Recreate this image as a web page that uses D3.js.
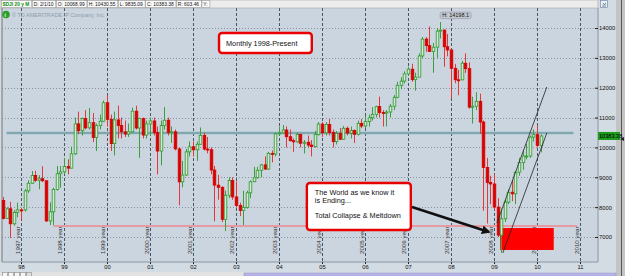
<!DOCTYPE html>
<html><head><meta charset="utf-8">
<script src="https://cdn.jsdelivr.net/npm/d3@7"></script>
<style>
body{margin:0;background:#d4d0c8;overflow:hidden;}
svg{display:block;font-family:"Liberation Sans",Arial,sans-serif;}
</style>
</head><body><svg id="c" width="625" height="276"></svg>
<script>
// ---- DATA (DJIA monthly, Aug 1997 - Feb 2010) ----
const firstMonth = "1997-08";
const opens = [8222,7622,7945,7442,7823,
7908,7907,8546,8800,9063,8900,8952,8883,7539,7843,8592,9117,
9181,9359,9307,9786,10789,10560,10971,10655,10829,10337,10730,10878,
11497,10941,10128,10922,10734,10522,10448,10522,11215,10651,10971,10414,
10787,10887,10495,9879,10735,10912,10502,10523,9950,8848,9075,9852,
10022,9920,10106,10404,9946,9925,9243,8737,8664,7592,8397,8896,
8342,8054,7891,7992,8480,8850,8985,9234,9416,9275,9801,9782,
10454,10488,10584,10358,10226,10188,10435,10140,10174,10080,10027,10428,
10783,10490,10766,10504,10193,10467,10275,10641,10482,10569,10440,10806,
10718,10865,10993,11109,11367,11168,11150,11186,11381,11679,12081,12222,
12463,12622,12269,12354,13063,13628,13409,13212,13358,13896,13930,13372,
13265,12650,12266,12263,12820,12638,11350,11378,11544,10851,9325,8829,
8776,8001,7063,7609,8168,8500,8447,9172,9496,9712,9713,10345,
10428,10068.99];
const highs = [8340,8000,8180,7900,8150,
7980,8600,8900,9210,9220,9070,9370,8900,8160,8650,9380,9380,
9650,9600,10030,11000,11200,11000,11250,11320,11150,10800,11100,11570,
11750,11100,11200,11400,11000,10900,10800,11330,11400,10990,11000,10900,
11000,11000,10700,10900,11350,11000,10700,10600,10000,9550,9950,10200,
10200,10200,10670,10500,10350,10000,9380,9080,8700,8550,9000,9000,
8860,8150,8550,8550,8900,9350,9350,9450,9700,9850,9900,10500,
10700,10750,10700,10600,10300,10500,10450,10250,10400,10250,10550,10850,
10850,10850,10950,10600,10550,10650,10720,10700,10700,10600,10900,10950,
11050,11100,11350,11400,11700,11250,11250,11450,11750,12200,12350,12550,
12700,12800,12500,13150,13700,13700,14050,13500,14000,14198.1,13950,13800,
13300,12800,12600,12900,13150,12850,11700,11850,11800,10900,9650,9050,
9100,8300,7950,8250,8600,8900,9200,9650,9900,10120,10400,10600,
10730,10430.55];
const lows = [7590,7620,6970,7380,7660,
7580,7850,8480,8780,8850,8600,8840,7500,7400,7400,8550,8650,
9100,9100,9300,9750,10450,10400,10600,10600,10180,9880,10600,10850,
10700,9880,9730,10300,10300,10350,10350,10500,10600,9650,10300,10300,
10400,10400,9100,9400,10600,10400,10150,9900,8060,8660,9050,9700,
9700,9550,10100,9900,9800,9100,7530,8250,7500,7200,8300,8250,
8000,7700,7400,7950,8300,8850,8950,9000,9250,9250,9500,9700,
10400,10450,10000,10200,9850,10150,10000,9800,10000,9700,10000,10400,
10350,10400,10400,10000,10100,10250,10250,10400,10300,10150,10400,10650,
10650,10700,10900,11000,11000,10700,10700,11000,11250,11650,11950,12150,
12400,12200,11900,12350,13000,13200,13200,12500,13000,13650,12700,13050,
11650,12150,11750,12250,12500,11300,10800,11250,10450,7880,7450,8100,
7900,7000,6470,7500,8100,8200,8100,9050,9250,9600,9650,10200,
10000,9835.09];
const closes = [7622,7945,7442,7823,7908,
7907,8546,8800,9063,8900,8952,8883,7539,7843,8592,9117,9181,
9359,9307,9786,10789,10560,10971,10655,10829,10337,10730,10878,11497,
10941,10128,10922,10734,10522,10448,10522,11215,10651,10971,10414,10787,
10887,10495,9879,10735,10912,10502,10523,9950,8848,9075,9852,10022,
9920,10106,10404,9946,9925,9243,8737,8664,7592,8397,8896,8342,
8054,7891,7992,8480,8850,8985,9234,9416,9275,9801,9782,10454,
10488,10584,10358,10226,10188,10435,10140,10174,10080,10027,10428,10783,
10490,10766,10504,10193,10467,10275,10641,10482,10569,10440,10806,10718,
10865,10993,11109,11367,11168,11150,11186,11381,11679,12081,12222,12463,
12622,12269,12354,13063,13628,13409,13212,13358,13896,13930,13372,13265,
12650,12266,12263,12820,12638,11350,11378,11544,10851,9325,8829,8776,
8001,7063,7609,8168,8500,8447,9172,9496,9712,9713,10345,10428,
10067,10383.38];
const yTicks = [7000,8000,9000,10000,11000,12000,13000,14000];
const yearTicks = [1998,1999,2000,2001,2002,2003,2004,2005,2006,2007,2008,2009,2010,2011];
const headerItems = ["$DJI 20 y M","D: 2/1/10","O: 10068.99","H: 10430.55","L: 9835.09","C: 10383.38","R: 603.46","Y:"];
const lastPrice = 10383.38;
const highLabel = "H: 14198.1";
const resistanceLevel = 10483;
const supportLevel = 7368;
const boxTitle = {text:["Monthly 1998-Present"], from:["2002-08-10",13832], to:["2004-10-06",13162]};
const boxNote = {text:["The World as we know it","is Ending...","","Total Collapse & Meltdown"], from:["2004-08-25",8808], to:["2007-01-25",7234]};
const arrowPts = [["2007-02-04",8005],["2008-11-19",7167]];
const redZone = [["2009-02-22",7300],["2010-05-23",6565]];
const channelUpper = [["2009-01-25",7469],["2010-03-25",12023]];
const channelLower = [["2009-03-16",6464],["2010-03-25",10483]];

// ---- LAYOUT ----
const W=625,H=276;
const plot={l:2,r:598,t:8,b:262};
const parse=d3.timeParse("%Y-%m-%d");
const m0=d3.timeParse("%Y-%m")(firstMonth);
const months=d3.timeMonth.range(m0, d3.timeMonth.offset(m0, closes.length));
const data=months.map((d,i)=>({d,o:opens[i],h:highs[i],l:lows[i],c:closes[i]}));
const x=d3.scaleTime().domain([new Date(1998,0,1),new Date(2011,0,1)]).range([21,580]);
const y=d3.scaleLinear().domain([7000,14000]).range([237,28]);
const P=p=>[x(parse(p[0])),y(p[1])];

const svg=d3.select("#c");
// frame backgrounds
svg.append("rect").attr("width",W).attr("height",H).attr("fill","#d4d0c8");
svg.append("rect").attr("x",0).attr("y",0).attr("width",616).attr("height",272).attr("fill","#d3dbe3");
svg.append("rect").attr("x",plot.l).attr("y",plot.t).attr("width",plot.r-plot.l).attr("height",plot.b-plot.t).attr("fill","#cbd5df");
svg.append("line").attr("x1",plot.l).attr("x2",plot.l).attr("y1",plot.t).attr("y2",plot.b).attr("stroke","#777");
svg.append("line").attr("x1",plot.r).attr("x2",plot.r).attr("y1",plot.t).attr("y2",plot.b).attr("stroke","#8a96a2");
svg.append("line").attr("x1",plot.l).attr("x2",plot.r).attr("y1",plot.b).attr("y2",plot.b).attr("stroke","#8a96a2");
// right strip
svg.append("rect").attr("x",616).attr("y",0).attr("width",9).attr("height",H).attr("fill","#c4c4c4");
svg.append("line").attr("x1",621.5).attr("x2",621.5).attr("y1",0).attr("y2",H).attr("stroke","#555");
svg.append("path").attr("d",`M620,${y(lastPrice)+3} l4,-2 l0,4 z`).attr("fill","#222");
// bottom toolbar
svg.append("rect").attr("x",0).attr("y",272).attr("width",616).attr("height",4).attr("fill","#e2e2e2");
svg.append("rect").attr("x",244).attr("y",273).attr("width",372).attr("height",3).attr("fill","#b8b8ea").attr("stroke","#8888cc").attr("stroke-width",0.5);
[2,8,14,20,26].forEach((bx,i)=>svg.append("rect").attr("x",bx+0.5).attr("y",272.5).attr("width",5).attr("height",4).attr("fill",i<4?"#f4f4f4":"#ddd").attr("stroke","#777").attr("stroke-width",0.5));

// grid
const g=svg.append("g");
g.selectAll(".hg").data(yTicks).join("line").attr("x1",plot.l).attr("x2",plot.r)
 .attr("y1",d=>Math.round(y(d))+0.5).attr("y2",d=>Math.round(y(d))+0.5)
 .attr("stroke","#75828e").attr("stroke-dasharray","1,2").attr("stroke-width",0.8);
g.selectAll(".vg").data(yearTicks).join("line")
 .attr("x1",d=>Math.round(x(new Date(d,0,1)))+0.5).attr("x2",d=>Math.round(x(new Date(d,0,1)))+0.5)
 .attr("y1",plot.t).attr("y2",plot.b).attr("stroke","#3d4650").attr("stroke-dasharray","3,2").attr("stroke-width",0.9);
g.selectAll(".yl").data(yearTicks).join("text")
 .attr("transform",d=>`translate(${x(new Date(d,0,1))-1.5},254) rotate(-90)`)
 .attr("font-size",6.2).attr("fill","#333").text(d=>`${d-1} year`);

// y axis
const yAx=d3.axisRight(y).tickValues(yTicks).tickSize(3).tickFormat(d3.format("d"));
const ya=svg.append("g").attr("transform",`translate(${plot.r-3},0)`).call(yAx);
ya.select(".domain").remove();
ya.selectAll("text").attr("font-size",5.8).attr("fill","#111").attr("x",4).attr("font-family","Liberation Sans, Arial");
ya.selectAll("line").attr("stroke","#222");
// x axis
const xAx=d3.axisBottom(x).tickValues(yearTicks.map(d=>new Date(d,0,1))).tickSize(2).tickFormat(d3.timeFormat("%y"));
const xa=svg.append("g").attr("transform",`translate(0,${plot.b})`).call(xAx);
xa.select(".domain").remove();
xa.selectAll("text").attr("font-size",5.8).attr("fill","#111").attr("y",3).attr("font-family","Liberation Sans, Arial");
xa.selectAll("line").attr("stroke","#222");

// horizontal levels
const xs=x(new Date(1997,8,1)), xe=x(new Date(2010,11,1));
svg.append("line").attr("x1",x(new Date(1998,9,1))).attr("x2",xe+1).attr("y1",y(supportLevel)).attr("y2",y(supportLevel))
 .attr("stroke","#e59aa4").attr("stroke-width",2.2);
svg.append("line").attr("x1",xs).attr("x2",xe-3).attr("y1",y(resistanceLevel)).attr("y2",y(resistanceLevel))
 .attr("stroke","#6cc4cc").attr("stroke-width",2.6);
svg.append("line").attr("x1",xs).attr("x2",xe-3).attr("y1",y(resistanceLevel)).attr("y2",y(resistanceLevel))
 .attr("stroke","#c84848").attr("stroke-width",0.5);

// red zone
const rz0=P(redZone[0]), rz1=P(redZone[1]);
svg.append("rect").attr("x",rz0[0]).attr("y",rz0[1]).attr("width",rz1[0]-rz0[0]).attr("height",rz1[1]-rz0[1]).attr("fill","#ff0000");

// candles
const bw=2.6;
const cg=svg.append("g");
const up=d=>d.c>d.o;
cg.selectAll(".w").data(data).join("line")
 .attr("x1",d=>Math.round(x(d.d))+0.5).attr("x2",d=>Math.round(x(d.d))+0.5)
 .attr("y1",d=>y(d.h)).attr("y2",d=>y(d.l))
 .attr("stroke",d=>up(d)?"#3c9e3c":"#e23a3a").attr("stroke-width",1);
cg.selectAll(".b").data(data).join("rect")
 .attr("x",d=>Math.round(x(d.d))+0.5-bw/2).attr("width",bw)
 .attr("y",d=>y(Math.max(d.o,d.c))).attr("height",d=>Math.max(1,Math.abs(y(d.o)-y(d.c))))
 .attr("fill",d=>up(d)?"#d2e8d2":"#dd0000").attr("stroke",d=>up(d)?"#2f9a2f":"#d40000").attr("stroke-width",0.8);

// channel lines
[channelUpper,channelLower].forEach(l=>{
  const a=P(l[0]),b=P(l[1]);
  svg.append("line").attr("x1",a[0]).attr("y1",a[1]).attr("x2",b[0]).attr("y2",b[1]).attr("stroke","#222").attr("stroke-width",0.8);
});

// high label
const hi=data.reduce((a,b)=>b.h>a.h?b:a);
const hx=x(hi.d), hy=y(hi.h);
const hl=svg.append("g").attr("transform",`translate(${hx},${hy-5})`);
const hlr=hl.append("rect");
const hlt=hl.append("text").attr("x",2).attr("y",0).attr("font-size",5.5).attr("fill","#111").text(highLabel);
const hw=hlt.node().getComputedTextLength();
hlr.attr("x",0).attr("y",-5).attr("width",hw+4).attr("height",6.5).attr("rx",1.5).attr("fill","#c3c9cf").attr("stroke","#aab");

// text boxes
function box(b){
  const a=P(b.from), c=P(b.to);
  const bgp=svg.append("g");
  bgp.append("rect").attr("x",a[0]+1).attr("y",a[1]+1).attr("width",c[0]-a[0]).attr("height",c[1]-a[1]).attr("rx",3).attr("fill","#555").attr("opacity",0.5);
  bgp.append("rect").attr("x",a[0]).attr("y",a[1]).attr("width",c[0]-a[0]).attr("height",c[1]-a[1]).attr("rx",3)
    .attr("fill","#fff").attr("stroke","#e80000").attr("stroke-width",2.4);
  return {a,c,g:bgp};
}
const b1=box(boxTitle);
svg.append("text").attr("x",b1.a[0]+7).attr("y",(b1.a[1]+b1.c[1])/2+2.6).attr("font-size",7.3).attr("fill","#111").text(boxTitle.text[0]);
const b2=box(boxNote);
boxNote.text.forEach((t,i)=>svg.append("text").attr("x",b2.a[0]+8).attr("y",b2.a[1]+12+i*7.6).attr("font-size",7.3).attr("fill","#111").text(t));

// arrow
const defs=svg.append("defs");
defs.append("marker").attr("id","ah").attr("viewBox","0 0 10 10").attr("refX",8).attr("refY",5)
 .attr("markerWidth",3.2).attr("markerHeight",3.2).attr("orient","auto")
 .append("path").attr("d","M0,0 L10,5 L0,10 z").attr("fill","#111");
const ar0=P(arrowPts[0]), ar1=P(arrowPts[1]);
svg.append("line").attr("x1",ar0[0]).attr("y1",ar0[1]).attr("x2",ar1[0]).attr("y2",ar1[1])
 .attr("stroke","#111").attr("stroke-width",2.8).attr("marker-end","url(#ah)");

// last price box
const lpY=y(lastPrice);
svg.append("rect").attr("x",598).attr("y",lpY-4).attr("width",22).attr("height",8).attr("fill","#1e9a1e");
svg.append("text").attr("x",599).attr("y",lpY+2).attr("font-size",5.6).attr("fill","#000").text(d3.format(".2f")(lastPrice));

// header
svg.append("rect").attr("x",0).attr("y",0).attr("width",598).attr("height",8).attr("fill","#ececec").attr("stroke","#9a9a9a").attr("stroke-width",0.5);
let hx0=1;
headerItems.forEach((t,i)=>{
  const cell=svg.append("g");
  const r=cell.append("rect");
  const tx=cell.append("text").attr("x",hx0+1.8).attr("y",6).attr("font-size",4.9)
    .attr("font-weight",i===0?"bold":"normal").attr("fill",i===0?"#109010":"#111").text(t);
  const w=tx.node().getComputedTextLength();
  r.attr("x",hx0+0.5).attr("y",0.5).attr("width",w+3.6).attr("height",7).attr("fill","#fafafa").attr("stroke","#888").attr("stroke-width",0.5);
  hx0+=w+4.2;
});
// top-right icon
svg.append("rect").attr("x",600.5).attr("y",0.5).attr("width",7).attr("height",7).attr("fill","#e8eef6").attr("stroke","#6a7fa0").attr("stroke-width",0.6);
svg.append("path").attr("d","M602,6 h4 M603,3 l1.5,2 l1.5,-2").attr("stroke","#345").attr("stroke-width",0.6).attr("fill","none");
// copyright
svg.append("circle").attr("cx",6).attr("cy",14.5).attr("r",3.8).attr("fill","#2aa02a");
svg.append("text").attr("x",4.6).attr("y",16.5).attr("font-size",5).attr("font-weight","bold").attr("fill","#fff").text("i");
svg.append("text").attr("x",12).attr("y",16.5).attr("font-size",5.5).attr("fill","#8e9cab").text("© TD AMERITRADE IP Company, Inc.");
</script></body></html>
